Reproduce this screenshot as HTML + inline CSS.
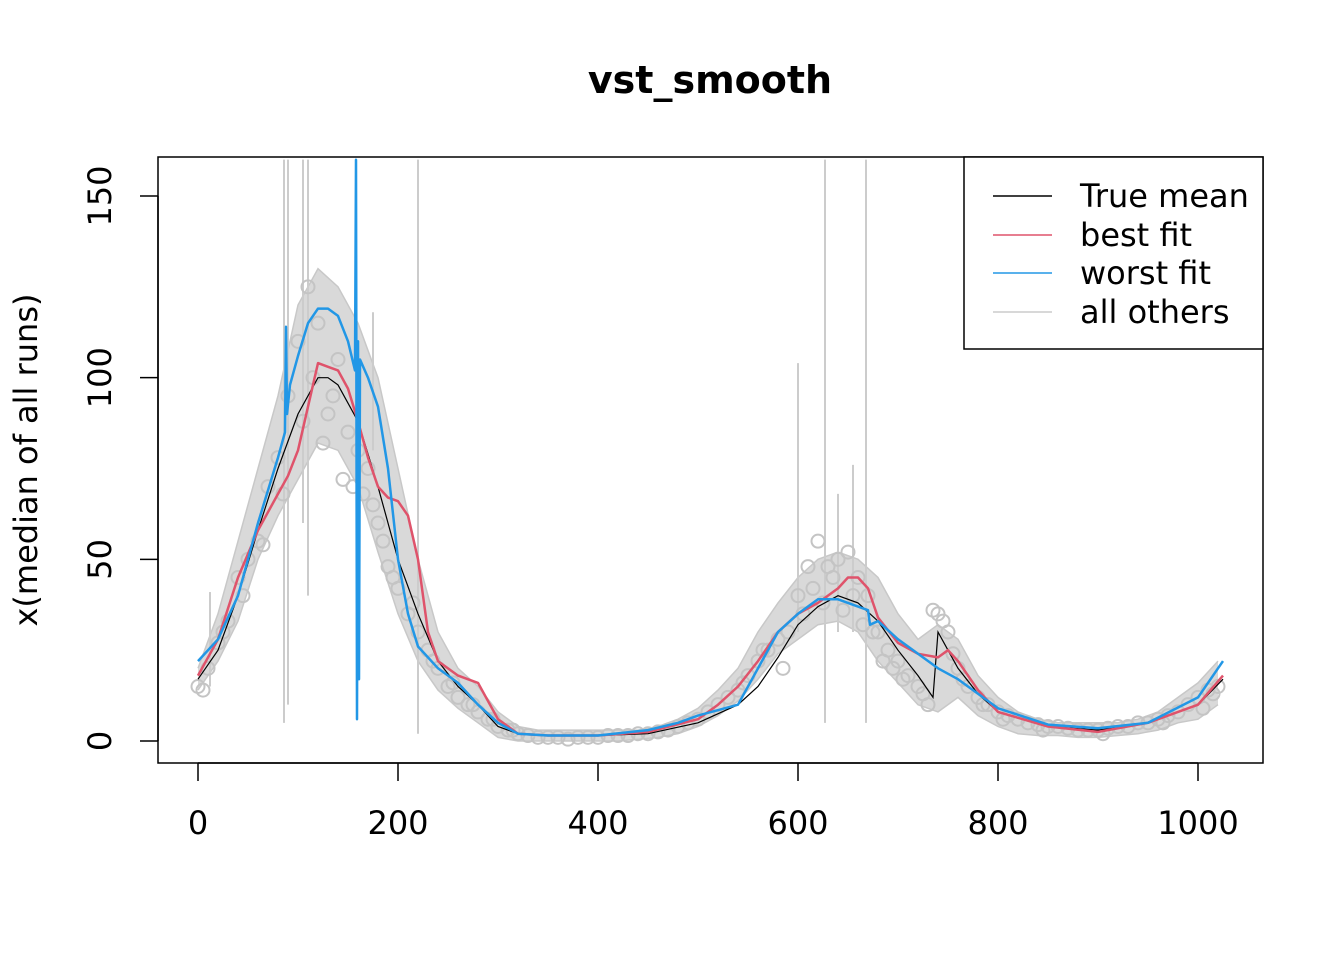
<!DOCTYPE html>
<html><head><meta charset="utf-8"><style>
body{margin:0;background:#fff}
text{font-family:"DejaVu Sans","Liberation Sans",sans-serif;}
</style></head><body>
<svg id="chart" width="1344" height="960" xmlns="http://www.w3.org/2000/svg">
<text x="710" y="93" text-anchor="middle" font-size="38" font-weight="bold">vst_smooth</text>
<g id="plot"></g>
<rect x="158" y="157" width="1105" height="606" fill="none" stroke="#000" stroke-width="1.5"/>
<g id="axes"></g>
<text transform="translate(37,460) rotate(-90)" text-anchor="middle" font-size="32">x(median of all runs)</text>
<g>
<rect x="964" y="157" width="299" height="192" fill="#fff" stroke="#000" stroke-width="1.5"/>
<line x1="993" x2="1052" y1="196" y2="196" stroke="#000" stroke-width="1.5"/>
<text x="1080" y="207" font-size="32">True mean</text>
<line x1="993" x2="1052" y1="235" y2="235" stroke="#df536b" stroke-width="1.5"/>
<text x="1080" y="246" font-size="32">best fit</text>
<line x1="993" x2="1052" y1="273" y2="273" stroke="#2297e6" stroke-width="1.5"/>
<text x="1080" y="284" font-size="32">worst fit</text>
<line x1="993" x2="1052" y1="312" y2="312" stroke="#cccccc" stroke-width="1.5"/>
<text x="1080" y="323" font-size="32">all others</text>
</g>
</svg>
<script>
const xTicks=[0,200,400,600,800,1000];
const yTicks=[0,50,100,150];
const trueX=[0,20,40,60,80,100,120,130,140,160,180,200,220,240,260,280,300,320,350,400,450,500,540,560,580,600,620,640,660,680,700,720,735,740,750,760,780,800,850,900,950,1000,1025];
const trueY=[17,25,40,58,75,90,100,100,98,88,70,50,35,22,15,10,4,2,1.5,1.5,2,5,10,15,23,32,37,40,38,33,25,18,12,30,25,20,13,8,4,3,5,10,17];
const bestX=[0,20,40,60,80,90,100,110,120,130,140,150,160,170,180,190,200,210,220,230,240,260,280,300,320,350,400,450,500,520,540,560,580,600,620,640,650,660,670,680,700,720,740,750,760,780,800,850,900,950,1000,1025];
const bestY=[18,28,45,58,68,73,80,92,104,103,102,97,88,78,70,67,66,62,50,30,22,18,16,6,2,1.5,1.5,2.5,6,10,15,22,30,35,38,42,45,45,42,34,27,24,23,25,22,14,8,4,2.5,5,10,18];
const worstX=[0,20,40,60,80,87,88,89,92,100,110,120,130,140,150,157,158,159,160,161,162,170,180,190,200,210,220,240,260,280,300,320,350,400,450,480,500,540,560,580,600,620,640,660,670,672,680,700,720,740,760,780,800,850,900,950,1000,1025];
const worstY=[22,28,40,60,78,85,114,90,98,106,115,119,119,117,110,102,160,6,110,17,105,100,92,75,50,35,26,20,16,10,5,2,1.5,1.5,3,5,7,10,20,30,35,39,39,37,36,32,33,28,24,20,17,13,9,4.5,3.5,5,12,22];
const grayX=[0,20,40,60,80,100,120,140,160,180,200,220,240,260,280,300,320,340,360,380,400,420,440,460,480,500,520,540,560,580,600,620,640,660,680,700,720,740,760,780,800,820,840,860,880,900,920,940,960,980,1000,1020];
const grayHi=[20,35,55,75,95,120,130,125,115,100,75,50,30,20,15,8,4,3,3,3,3,3,3,4,6,9,14,20,30,38,45,50,52,50,45,35,28,32,28,18,12,8,6,5,5,5,5,6,8,12,16,22];
const grayLo=[14,22,33,50,62,72,82,80,70,52,35,22,14,9,5,1,0,0,0,0,0,0,0.5,1,2,4,7,11,17,24,28,32,33,30,22,16,10,8,12,7,4,2,1.5,1.5,1,1,1.5,2,3,5,6,10];
const spikeX=[12,86,90,105,110,175,220,600,627,640,655,668];
const spikeTop=[41,160,160,160,160,118,160,104,160,68,76,160];
const spikeBot=[15,5,10,60,40,80,2,30,5,30,30,5];
const obsX=[0,10,20,30,40,50,60,70,80,90,100,110,120,130,140,150,160,170,180,190,200,210,220,230,240,250,260,270,280,290,300,310,320,330,340,350,360,370,380,390,400,410,420,430,440,450,460,470,480,490,500,510,520,530,540,550,560,570,580,590,600,610,620,630,640,650,660,670,680,690,700,710,720,730,740,750,760,770,780,790,800,810,820,830,840,850,860,870,880,890,900,910,920,930,940,950,960,970,980,990,1000,1010,1020];
const obsY=[15,20,27,33,45,50,55,70,78,95,110,125,115,90,105,85,80,75,60,48,42,35,30,25,20,15,12,10,8,6,4,3,2,1.5,1,1,1,0.5,1,1,1,1.5,1.5,1.5,2,2,2.5,3,4,5,6,8,10,12,14,18,22,25,28,30,40,48,55,48,50,52,45,40,30,25,22,18,15,10,35,30,20,15,12,10,8,7,6,5,4.5,4,4,3.5,3,3,3,3.5,4,4,5,5,6,7,8,10,12,14,15];
const obs2X=[5,25,45,65,85,105,115,125,135,145,155,165,175,185,195,215,235,255,275,295,315,545,565,585,605,615,625,635,645,655,665,675,685,695,705,725,735,745,755,765,785,805,845,905,965,1005,1015];
const obs2Y=[14,30,40,54,68,88,100,82,95,72,70,68,65,55,45,38,22,16,10,6,3,16,25,20,35,42,38,45,36,40,32,30,22,20,17,13,36,33,24,17,10,6,3,2,5,9,13];

const X=v=>198+v*1.0;
const Y=v=>741-v*545/150;
const svg=document.getElementById('chart');
const plot=document.getElementById('plot');
const axes=document.getElementById('axes');
const NS='http://www.w3.org/2000/svg';
function mk(tag,attrs,parent){const e=document.createElementNS(NS,tag);for(const k in attrs)e.setAttribute(k,attrs[k]);parent.appendChild(e);return e;}
function pts(xs,ys){return xs.map((x,i)=>X(x).toFixed(1)+','+Y(ys[i]).toFixed(1)).join(' ');}
const clip=mk('clipPath',{id:'cp'},svg);mk('rect',{x:158,y:157,width:1105,height:606},clip);
plot.setAttribute('clip-path','url(#cp)');

const band=mk('polygon',{points:pts(grayX,grayHi)+' '+pts(grayX.slice().reverse(),grayLo.slice().reverse()),fill:'#d9d9d9',stroke:'none'},plot);


[grayHi,grayLo].forEach((arr,j)=>{
 const l=mk('polyline',{points:pts(grayX,arr),fill:'none',stroke:'#c8c8c8','stroke-width':1.5},plot);
 
 
});
spikeX.forEach((x,i)=>{
 const l=mk('line',{x1:X(x),x2:X(x),y1:Y(spikeTop[i]),y2:Y(spikeBot[i]),stroke:'#cccccc','stroke-width':2},plot);
 
 
});
[[obsX,obsY],[obs2X,obs2Y]].forEach(([xs,ys])=>xs.forEach((x,i)=>{
 const c=mk('circle',{cx:X(x),cy:Y(ys[i]),r:6.5,fill:'none',stroke:'#c4c4c4','stroke-width':2},plot);
 
 
}));
const lt=mk('polyline',{points:pts(trueX,trueY),fill:'none',stroke:'#000','stroke-width':1.2},plot);


const lb=mk('polyline',{points:pts(bestX,bestY),fill:'none',stroke:'#df536b','stroke-width':2.5,'stroke-linejoin':'round'},plot);


const lw=mk('polyline',{points:pts(worstX,worstY),fill:'none',stroke:'#2297e6','stroke-width':2.5,'stroke-linejoin':'round'},plot);



const xa=mk('line',{x1:X(xTicks[0]),x2:X(xTicks[xTicks.length-1]),y1:763,y2:763,stroke:'#000','stroke-width':1.5},axes);


xTicks.forEach(t=>{
 const tk=mk('line',{x1:X(t),x2:X(t),y1:763,y2:781,stroke:'#000','stroke-width':1.5},axes);
 
 
 const tx=mk('text',{x:X(t),y:834,'text-anchor':'middle','font-size':32},axes);
 tx.textContent=t;
 
 
});
const ya=mk('line',{x1:158,x2:158,y1:Y(yTicks[0]),y2:Y(yTicks[yTicks.length-1]),stroke:'#000','stroke-width':1.5},axes);


yTicks.forEach(t=>{
 const tk=mk('line',{x1:140,x2:158,y1:Y(t),y2:Y(t),stroke:'#000','stroke-width':1.5},axes);
 
 
 const tx=mk('text',{transform:'translate(111,'+Y(t)+') rotate(-90)','text-anchor':'middle','font-size':32},axes);
 tx.textContent=t;
 
 
});
</script>
</body></html>
